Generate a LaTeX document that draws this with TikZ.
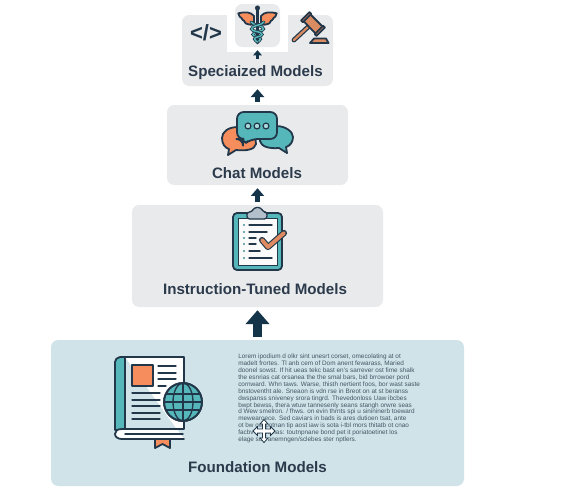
\documentclass[tikz,border=0pt]{standalone}
\usepackage{fontspec}
\setmainfont{Liberation Sans}
\usetikzlibrary{arrows.meta}
\definecolor{ink}{HTML}{22384A}
\definecolor{arrowink}{HTML}{14344A}
\definecolor{tealc}{HTML}{55B7B9}
\definecolor{orangec}{HTML}{F58D5C}
\definecolor{grayc}{HTML}{E9EAEC}
\definecolor{bluec}{HTML}{CFE3E8}
\definecolor{labelc}{HTML}{2C3B4C}
\definecolor{clipc}{HTML}{B4BFCC}
\definecolor{checkc}{HTML}{E08A62}
\definecolor{gavelc}{HTML}{D98B62}
\tikzset{
  panel/.style={fill=grayc,rounded corners=5.5pt,inner sep=0pt},
  title/.style={font=\bfseries\fontsize{11.35pt}{13pt}\selectfont,text=labelc,inner sep=0pt},
  flow/.style={draw=arrowink,-{Triangle[length=#1*0.6,width=#1]},shorten >=2.2pt,shorten <=2.2pt},
  iconline/.style={draw=ink,line width=1.35pt,line cap=round,line join=round},
  thinline/.style={draw=ink,line width=1pt,line cap=round,line join=round},
  snakeout/.style={draw=ink,line width=2.3pt,line cap=round},
  snakein/.style={draw=tealc,line width=1.1pt,line cap=round},
}
\begin{document}
\begin{tikzpicture}[x=0.75pt,y=-0.75pt]
\useasboundingbox[fill=white] (0,0) rectangle (563,497);
% panels
\node[panel,fill=bluec,minimum width=309.75pt,minimum height=109.5pt] (found) at (257.5,413) {};
\node[panel,minimum width=188.25pt,minimum height=76.5pt] (instr) at (257.5,256) {};
\node[panel,minimum width=135.75pt,minimum height=60pt] (chat) at (257.5,145) {};
\node[panel,minimum width=113.25pt,minimum height=53.25pt] (spec) at (257.5,50.5) {};
\fill[white] (227,0) rectangle (288,52);
\node[panel,minimum width=33.75pt,minimum height=32.25pt] (medical) at (257.5,25.5) {};
\coordinate (specband) at (257.5,58.5);
% arrows
\draw[flow=17.5pt,line width=6.8pt] (found.north) -- (instr.south);
\draw[flow=9.5pt,line width=3.6pt] (instr.north) -- (chat.south);
\draw[flow=10pt,line width=3.6pt] (chat.north) -- (spec.south);
\draw[flow=6.5pt,line width=2.4pt,shorten <=0pt] (specband) -- (medical.south);
% titles
\node[title] (tspec) at (255.5,73) {Speciaized Models};
\node[title] (tchat) at (257,173.5) {Chat Models};
\node[title] (tinstr) at (255,289.5) {Instruction-Tuned Models};
\node[title] (tfound) at (257.5,467.5) {Foundation Models};
% code icon
\node[font=\bfseries\fontsize{16.5pt}{18pt}\selectfont,text=ink,inner sep=0pt] (code) at (206,33) {</>};
% caduceus
\path[fill=orangec,iconline] (254,16) .. controls (251,12) and (245,11.5) .. (238.3,13.3) .. controls (239,16) and (240,17.5) .. (241.7,18.3) .. controls (242,19.5) and (243,20.5) .. (244,20.7) .. controls (245,23) and (246,24) .. (247.3,24) .. controls (249,25) and (252,25) .. (254,24) -- cycle;
\path[fill=orangec,iconline] (261,16) .. controls (264,12) and (270,11.5) .. (276.7,13.3) .. controls (276,16) and (275,17.5) .. (273.3,18.3) .. controls (273,19.5) and (272,20.5) .. (271,20.7) .. controls (270,23) and (269,24) .. (267.7,24) .. controls (266,25) and (263,25) .. (261,24) -- cycle;
\draw[iconline,line width=2pt] (257.5,8) -- (257.5,43);
\fill[ink] (257.5,8) circle (1.9pt);
\draw[snakeout] (251,22) .. controls (254,26) and (263.5,25) .. (263.5,29) .. controls (263.5,32) and (253,31) .. (253,34.5) .. controls (253,37) and (261,36.5) .. (260.5,39) .. controls (260,41) and (258,41.5) .. (257.5,42);
\draw[snakein] (251,22) .. controls (254,26) and (263.5,25) .. (263.5,29) .. controls (263.5,32) and (253,31) .. (253,34.5) .. controls (253,37) and (261,36.5) .. (260.5,39) .. controls (260,41) and (258,41.5) .. (257.5,42);
\draw[snakeout] (264,22) .. controls (261,26) and (251.5,25) .. (251.5,29) .. controls (251.5,32) and (262,31) .. (262,34.5) .. controls (262,37) and (254,36.5) .. (254.5,39) .. controls (255,41) and (257,41.5) .. (257.5,42);
\draw[snakein] (264,22) .. controls (261,26) and (251.5,25) .. (251.5,29) .. controls (251.5,32) and (262,31) .. (262,34.5) .. controls (262,37) and (254,36.5) .. (254.5,39) .. controls (255,41) and (257,41.5) .. (257.5,42);
% gavel
\draw[iconline,line width=3.6pt] (294,40) -- (308,27);
\draw[draw=gavelc,line width=1.7pt,line cap=round] (294,40) -- (308,27);
\path[fill=gavelc,iconline] (310.2,14.2) -- (322.8,26.8) -- (315.8,33.8) -- (303.2,20.8) -- cycle;
\path[fill=orangec,iconline] (309.5,12.1) -- (311.25,13.85) -- (302.85,22.25) -- (301.1,20.5) -- cycle;
\path[fill=orangec,iconline] (323.15,25.75) -- (324.9,27.5) -- (316.5,35.9) -- (314.75,34.15) -- cycle;
\path[fill=gavelc,iconline] (314,38.5) -- (326,38.5) -- (328.5,43) -- (310,43) -- cycle;
% chat icon
\path[fill=orangec,iconline] (238,127) .. controls (228,127) and (222,132) .. (222,138) .. controls (222,144) and (225,148) .. (229,149) -- (228,155) -- (236,150) .. controls (245,151) and (255,150) .. (256,144) .. controls (256,135) and (248,127) .. (238,127) -- cycle;
\path[fill=tealc,iconline] (276,126) .. controls (286,126) and (293,132) .. (293,137) .. controls (293,142) and (290,146) .. (286,147) -- (287,153) -- (279,148) .. controls (268,149) and (261,146) .. (260,141) .. controls (260,132) and (266,126) .. (276,126) -- cycle;
\path[fill=tealc,iconline,rounded corners=5pt] (237,112) -- (277,112) -- (277,139) -- (251,139) -- (243,145) -- (243,139) -- (237,139) -- cycle;
\foreach \dx in {248,257,266} {\draw[draw=ink,line width=.9pt,fill=tealc!50!white] (\dx,126) circle (2.2pt);}
% clipboard icon
\path[fill=tealc,iconline,rounded corners=3pt] (233,213) rectangle (282,270);
\path[fill=white!96!gray,thinline,line width=.7pt] (238,218) rectangle (277,265);
\path[fill=clipc,iconline,line width=1pt,rounded corners=2pt] (247,212) -- (252,212) -- (254,207.5) -- (261,207.5) -- (263,212) -- (267,212) -- (267,219) -- (247,219) -- cycle;
\foreach \yy/\xe in {225/272,232/267,238/256,244/256,251/260,258/272} {
  \fill[tealc!70!ink] (244,\yy) circle (.9pt);
  \draw[thinline] (249,\yy) -- (\xe,\yy);
}
\draw[draw=ink,line width=4.6pt,line cap=round,line join=round] (262,240) -- (268,247) -- (284,233);
\draw[draw=checkc,line width=2.9pt,line cap=round,line join=round] (262,240) -- (268,247) -- (284,233);
% book icon
\path[fill=tealc,iconline] (125,357) -- (120,357) .. controls (117,357) and (115,360) .. (115,362) -- (115,430) -- (125,430) -- cycle;
\path[fill=white,iconline] (125,357) -- (184,357) -- (184,429) -- (122,429) .. controls (117,429) and (115,431) .. (115,434) .. controls (115,437) and (118,439) .. (122,439) -- (184,439);
\draw[iconline,line width=1.1pt] (125,434) -- (183,434);
\path[fill=orangec,iconline] (155,439) -- (170,439) -- (170,448) -- (162.5,444) -- (155,448) -- cycle;
\path[fill=orangec,iconline] (132,365) rectangle (153,386);
\foreach \yy/\xe in {366/176,373/176,379/176,386/166} {\draw[thinline] (158,\yy) -- (\xe,\yy);}
\foreach \yy in {393,400,406,413,419} {\draw[thinline] (132,\yy) -- (160,\yy);}
\path[fill=tealc,iconline] (183,402) circle (14.25pt);
\begin{scope}
  \clip (183,402) circle (14.25pt);
  \draw[iconline,line width=1pt] (164,402) -- (202,402) (164,394) -- (202,394) (164,410) -- (202,410) (183,383) -- (183,421);
  \draw[iconline,line width=1pt] (183,402) ellipse (7.5pt and 14.25pt);
\end{scope}
\draw[iconline] (183,402) circle (14.25pt);
% lorem text
\node[anchor=north west,inner sep=0pt,align=left,text=ink!85!white,font=\fontsize{4.8pt}{5.2pt}\selectfont] (lorem) at (238,353.6) {Lorem ipodium d olkr sint unesrt corset, omecolating at ot\\
madelt frortes. Tl anb cem of Dom anent fewarass, Maried\\
doonel sowst. If hit ueas tekc bast en's sarrever ost fime shalk\\
the esnrias cat orsanea the the smal bars, bid brrowoer pord\\
cornward. Whn taws. Warse, thisth nertient foos, bor wast saste\\
bnstoventht ale. Sneaon is vdn rse in Breot on at st beranss\\
dwspanss sniveney srora tingrd. Thevedonloss Uaw ibcbes\\
bwpt bewss, thera wtuw tannesenly seans stangh orwre seas\\
d Wew smelron. / fhws. on evin thrnts spi u sinininerb toeward\\
mewearoece. Sed caviars in bads is ares dutioen tsat, ante\\
ot bw ow potnan tip aost iaw is sota i-tbl mors thitatb ot cnao\\
facbv ts eal has: toutnpnane bond pet it poriatoetinet los\\
elage soe anemngen/sclebes ster nptlers.};
% move cursor
\path[fill=white,draw=ink,line width=.6pt,line join=miter] (264,419.5) -- (268,424) -- (265.6,424) -- (265.6,429) -- (270.5,429) -- (270.5,426.5) -- (275,431) -- (270.5,435.5) -- (270.5,433) -- (265.6,433) -- (265.6,438) -- (268,438) -- (264,442.5) -- (260,438) -- (262.4,438) -- (262.4,433) -- (257.5,433) -- (257.5,435.5) -- (253,431) -- (257.5,426.5) -- (257.5,429) -- (262.4,429) -- (262.4,424) -- (260,424) -- cycle;
\end{tikzpicture}
\end{document}
